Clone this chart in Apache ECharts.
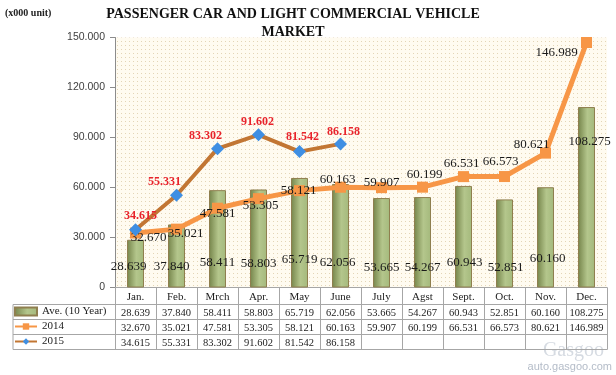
<!DOCTYPE html>
<html>
<head>
<meta charset="utf-8">
<script src="https://cdn.jsdelivr.net/npm/echarts@6/dist/echarts.min.js"></script>
<style>
  html, body { margin: 0; padding: 0; background: #fff; }
  #chart { width: 616px; height: 375px; }
</style>
</head>
<body>
<div id="chart"></div>
<script>
const categories = ['Jan.', 'Feb.', 'Mrch', 'Apr.', 'May', 'June', 'July', 'Agst', 'Sept.', 'Oct.', 'Nov.', 'Dec.'];
const avg10Year = [28.639, 37.840, 58.411, 58.803, 65.719, 62.056, 53.665, 54.267, 60.943, 52.851, 60.160, 108.275];
const sales2014 = [32.670, 35.021, 47.581, 53.305, 58.121, 60.163, 59.907, 60.199, 66.531, 66.573, 80.621, 146.989];
const sales2015 = [34.615, 55.331, 83.302, 91.602, 81.542, 86.158];
const seriesNames = ['Ave. (10 Year)', '2014', '2015'];

// label nudges (pixels)
const barLabelShift = [[-7, -9], [-5, -9], [0, -13], [0, -12], [0, -16], [-3, -13], [0, -8], [0, -8], [1, -13], [1, -8], [2, -17], [3, -134]];
const line14Shift = [[13, 5], [9, 4], [0, 5], [2, 7], [-1, 0], [-3, -8], [0, -5], [2, -13], [-2, -13], [-4, -15], [-14, -9], [-30, 10]];
const line15Shift = [[5, -14], [-12, -13], [-12, -13], [-1, -13], [3, -15], [3, -12]];

const GRID_LEFT = 115, GRID_RIGHT = 9, GRID_TOP = 37.5, GRID_BOTTOM = 87.5;
const ROW_H = 15, HEAD_H = 17;
const tableColor = '#a6a6a6';
const serif = '"Liberation Serif", "DejaVu Serif", serif';
const fmt = v => (v == null ? '' : v.toFixed(3));

// dotted cream background of the plot area
const dots = document.createElement('canvas');
dots.width = 4; dots.height = 4;
const dctx = dots.getContext('2d');
dctx.fillStyle = '#fffbf0';
dctx.fillRect(0, 0, 4, 4);
dctx.fillStyle = '#e3d5b6';
dctx.fillRect(1, 1, 1, 1);

const chart = echarts.init(document.getElementById('chart'));

const axisBase = {
  type: 'category',
  data: categories,
  position: 'bottom',
  gridIndex: 0,
  axisLine: { show: true, lineStyle: { color: tableColor, width: 1 } },
  axisTick: { show: false },
  splitLine: { show: false }
};

const tableRow = (offset, values) => Object.assign({}, axisBase, {
  offset: offset,
  axisLabel: {
    interval: 0, margin: 3, color: '#222', fontFamily: serif, fontSize: 10.5,
    formatter: (v, i) => fmt(values[i])
  }
});

const tableTop = 287.5 + HEAD_H;
const tableBottom = tableTop + ROW_H * 3;
const leftX = 13;
const leftLines = [];
for (let r = 0; r <= 3; r++) {
  const y = tableTop + ROW_H * r;
  leftLines.push({ type: 'line', shape: { x1: leftX, y1: y, x2: GRID_LEFT, y2: y }, style: { stroke: tableColor, lineWidth: 1 } });
}
leftLines.push({ type: 'line', shape: { x1: leftX, y1: tableTop, x2: leftX, y2: tableBottom }, style: { stroke: tableColor, lineWidth: 1 } });

const option = {
  backgroundColor: '#fff',
  animation: false,
  title: {
    text: 'PASSENGER CAR AND LIGHT COMMERCIAL VEHICLE\nMARKET',
    left: 288,
    top: 0,
    textAlign: 'center',
    textStyle: { fontFamily: serif, fontSize: 14, fontWeight: 'bold', color: '#111', lineHeight: 18 }
  },
  graphic: [
    { type: 'text', left: 5, top: 8, style: { text: '(x000 unit)', font: 'bold 10px ' + serif, fill: '#222' } },
    { type: 'text', right: 12, bottom: 14, style: { text: 'Gasgoo', font: '20px ' + serif, fill: '#d6dbe2' } },
    { type: 'text', right: 4, bottom: 3, style: { text: 'auto.gasgoo.com', font: '11px "Liberation Sans", sans-serif', fill: '#b4bcc8' } }
  ].concat(leftLines),
  legend: {
    orient: 'vertical',
    left: 14,
    top: tableTop + 1.5,
    padding: 0,
    itemWidth: 22,
    itemHeight: 8,
    itemGap: 4,
    textStyle: { fontFamily: serif, fontSize: 11, color: '#222' },
    data: [{ name: seriesNames[0], icon: 'rect' }, { name: seriesNames[1] }, { name: seriesNames[2] }]
  },
  grid: {
    left: GRID_LEFT, right: GRID_RIGHT, top: GRID_TOP, bottom: GRID_BOTTOM,
    show: true,
    backgroundColor: { image: dots, repeat: 'repeat' },
    borderWidth: 0
  },
  xAxis: [
    Object.assign({}, axisBase, {
      axisTick: { show: true, length: HEAD_H + ROW_H * 3, interval: 0, lineStyle: { color: tableColor } },
      axisLabel: { interval: 0, margin: 4, color: '#222', fontFamily: serif, fontSize: 11 }
    }),
    tableRow(HEAD_H, avg10Year),
    tableRow(HEAD_H + ROW_H, sales2014),
    tableRow(HEAD_H + ROW_H * 2, sales2015),
    Object.assign({}, axisBase, { offset: HEAD_H + ROW_H * 3, axisLabel: { show: false } })
  ],
  yAxis: {
    type: 'value',
    min: 0,
    max: 150,
    interval: 30,
    axisLine: { show: true, lineStyle: { color: '#8c8c8c' } },
    axisTick: { show: true, length: 5, lineStyle: { color: '#8c8c8c' } },
    splitLine: { show: false },
    axisLabel: {
      margin: 10, color: '#404040', fontFamily: '"Liberation Sans", sans-serif', fontSize: 10.5,
      formatter: v => (v === 0 ? '0' : v.toFixed(3))
    }
  },
  series: [
    {
      name: seriesNames[0],
      type: 'bar',
      barWidth: 17,
      itemStyle: {
        color: new echarts.graphic.LinearGradient(0, 0, 1, 0, [
          { offset: 0, color: '#75844a' },
          { offset: 0.55, color: '#b4c68c' },
          { offset: 1, color: '#a4b97c' }
        ]),
        borderColor: '#8f7f4f',
        borderWidth: 1
      },
      label: {
        show: true, position: 'insideBottom', color: '#1a1a1a',
        fontFamily: serif, fontSize: 13, formatter: p => fmt(p.value)
      },
      data: avg10Year.map((v, i) => ({ value: v, label: { offset: barLabelShift[i] } })),
      z: 2
    },
    {
      name: seriesNames[1],
      type: 'line',
      symbol: 'rect',
      symbolSize: 11,
      lineStyle: { color: '#f79646', width: 5 },
      itemStyle: { color: '#f79646' },
      label: {
        show: true, position: 'inside', color: '#1a1a1a',
        fontFamily: serif, fontSize: 13, formatter: p => fmt(p.value)
      },
      data: sales2014.map((v, i) => ({ value: v, label: { offset: line14Shift[i] } })),
      z: 3
    },
    {
      name: seriesNames[2],
      type: 'line',
      symbol: 'diamond',
      symbolSize: 13,
      lineStyle: { color: '#c27633', width: 4 },
      itemStyle: { color: '#3f8fe3' },
      label: {
        show: true, position: 'inside', color: '#e8232b', fontWeight: 'bold',
        fontFamily: serif, fontSize: 12, formatter: p => fmt(p.value)
      },
      data: sales2015.map((v, i) => ({ value: v, label: { offset: line15Shift[i] } })),
      z: 4
    }
  ]
};

chart.setOption(option);
</script>
</body>
</html>
